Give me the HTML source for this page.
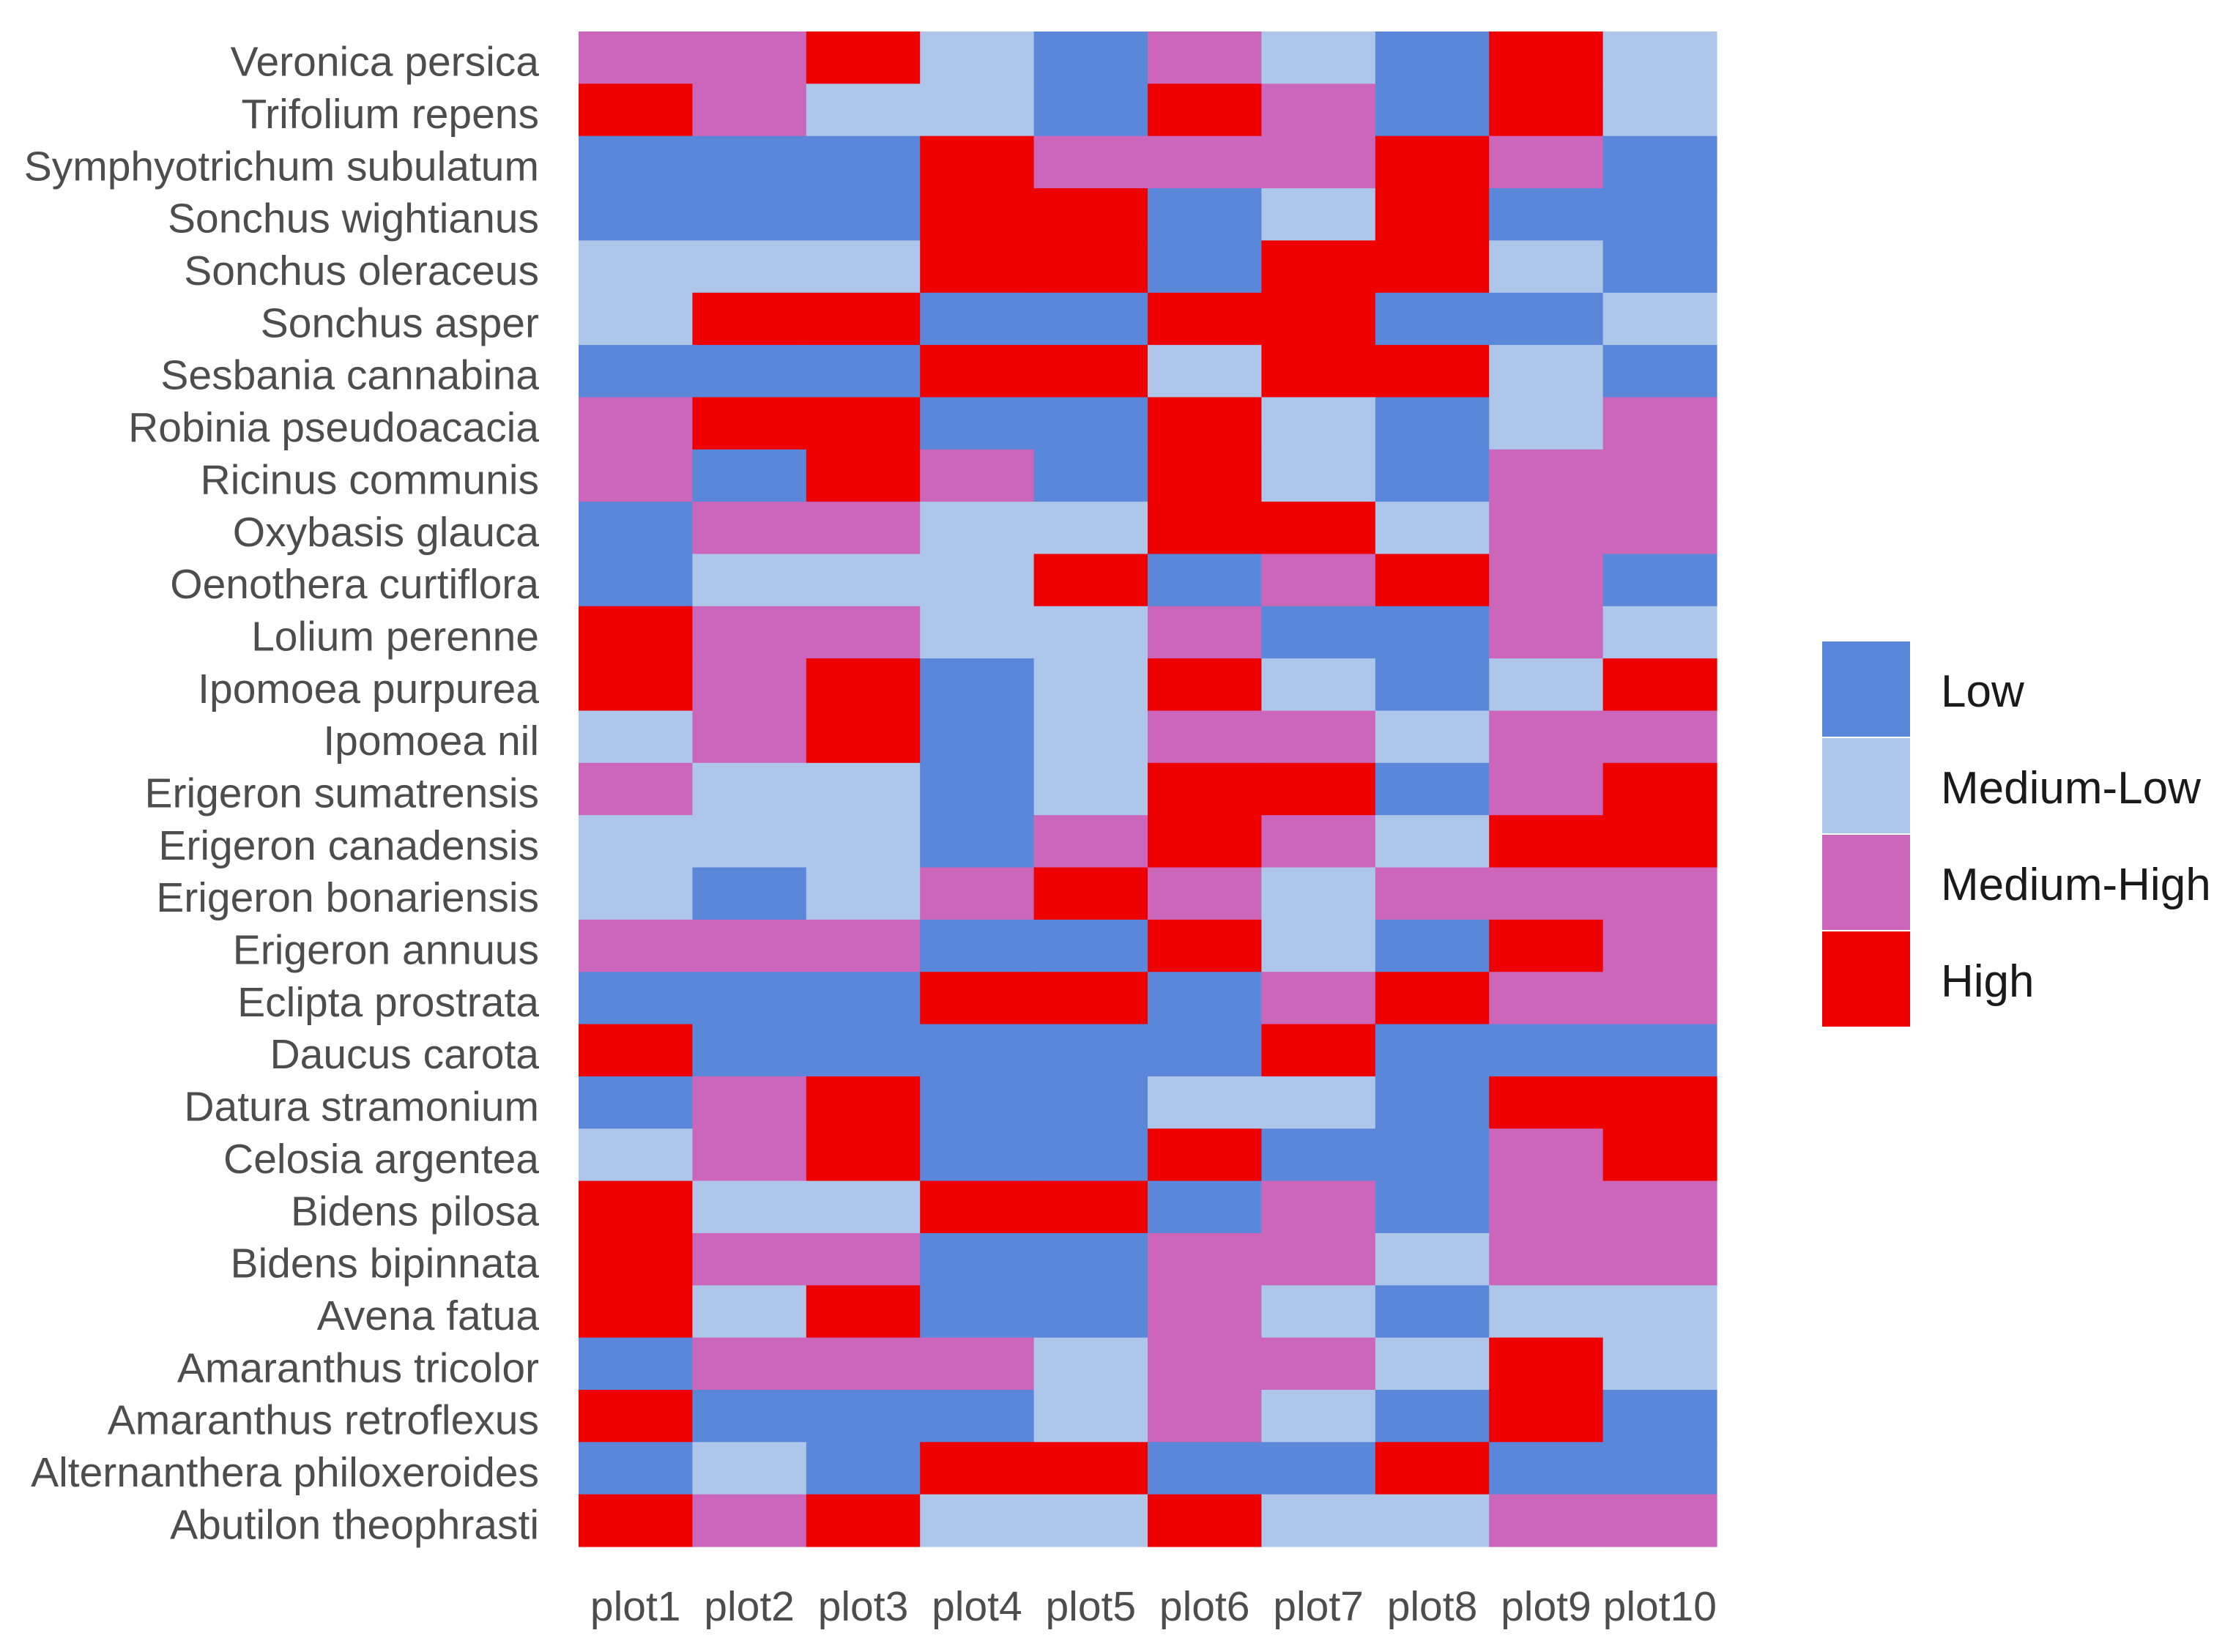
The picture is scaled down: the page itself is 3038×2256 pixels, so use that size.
<!DOCTYPE html>
<html><head><meta charset="utf-8"><style>
html,body{margin:0;padding:0;background:#fff;}
svg{display:block;font-family:"Liberation Sans",sans-serif;}
</style></head><body>
<svg id="chart" width="3038" height="2256" viewBox="0 0 3038 2256" xmlns="http://www.w3.org/2000/svg">
<g id="cells"></g>
<g id="ylabels"></g>
<g id="xlabels"></g>
<g id="legend"></g>
</svg>
<script>
const species = ["Veronica persica","Trifolium repens","Symphyotrichum subulatum","Sonchus wightianus","Sonchus oleraceus","Sonchus asper","Sesbania cannabina","Robinia pseudoacacia","Ricinus communis","Oxybasis glauca","Oenothera curtiflora","Lolium perenne","Ipomoea purpurea","Ipomoea nil","Erigeron sumatrensis","Erigeron canadensis","Erigeron bonariensis","Erigeron annuus","Eclipta prostrata","Daucus carota","Datura stramonium","Celosia argentea","Bidens pilosa","Bidens bipinnata","Avena fatua","Amaranthus tricolor","Amaranthus retroflexus","Alternanthera philoxeroides","Abutilon theophrasti"];
const plots = ["plot1","plot2","plot3","plot4","plot5","plot6","plot7","plot8","plot9","plot10"];
const levels = ["Low","Medium-Low","Medium-High","High"];
// 1=Low 2=Medium-Low 3=Medium-High 4=High
const values = [
[3,3,4,2,1,3,2,1,4,2],
[4,3,2,2,1,4,3,1,4,2],
[1,1,1,4,3,3,3,4,3,1],
[1,1,1,4,4,1,2,4,1,1],
[2,2,2,4,4,1,4,4,2,1],
[2,4,4,1,1,4,4,1,1,2],
[1,1,1,4,4,2,4,4,2,1],
[3,4,4,1,1,4,2,1,2,3],
[3,1,4,3,1,4,2,1,3,3],
[1,3,3,2,2,4,4,2,3,3],
[1,2,2,2,4,1,3,4,3,1],
[4,3,3,2,2,3,1,1,3,2],
[4,3,4,1,2,4,2,1,2,4],
[2,3,4,1,2,3,3,2,3,3],
[3,2,2,1,2,4,4,1,3,4],
[2,2,2,1,3,4,3,2,4,4],
[2,1,2,3,4,3,2,3,3,3],
[3,3,3,1,1,4,2,1,4,3],
[1,1,1,4,4,1,3,4,3,3],
[4,1,1,1,1,1,4,1,1,1],
[1,3,4,1,1,2,2,1,4,4],
[2,3,4,1,1,4,1,1,3,4],
[4,2,2,4,4,1,3,1,3,3],
[4,3,3,1,1,3,3,2,3,3],
[4,2,4,1,1,3,2,1,2,2],
[1,3,3,3,2,3,3,2,4,2],
[4,1,1,1,2,3,2,1,4,1],
[1,2,1,4,4,1,1,4,1,1],
[4,3,4,2,2,4,2,2,3,3]
];
const colors = ["#5b87db","#aec6ea","#cc66bb","#ee0000"];
const NS="http://www.w3.org/2000/svg";
const X0=790,X1=2344,Y0=43,Y1=2112;
const cw=(X1-X0)/plots.length, ch=(Y1-Y0)/species.length;
const xPos=i=>X0+i*cw, yPos=j=>Y0+j*ch;
function mk(tag,attrs,parent){const e=document.createElementNS(NS,tag);for(const k in attrs)e.setAttribute(k,attrs[k]);parent.appendChild(e);return e;}
const cells=document.getElementById('cells');
values.forEach((row,j)=>row.forEach((v,i)=>{
  const r=mk('rect',{x:xPos(i),y:yPos(j),width:cw+0.6,height:ch+0.6,fill:colors[v-1]},cells);
  
  
}));
const yl=document.getElementById('ylabels');
species.forEach((s,j)=>{
  const t=mk('text',{x:736,y:yPos(j)+ch/2+25,'text-anchor':'end','font-size':57,fill:'#4d4d4d'},yl);
  t.textContent=s;
  
  
});
const xl=document.getElementById('xlabels');
plots.forEach((p,i)=>{
  const t=mk('text',{x:xPos(i)+cw/2,y:2213,'text-anchor':'middle','font-size':57,fill:'#4d4d4d'},xl);
  t.textContent=p;
  
  
});
const lg=document.getElementById('legend');
levels.forEach((l,k)=>{
  const y=876+k*132;
  const r=mk('rect',{x:2488,y:y,width:120,height:130,fill:colors[k]},lg);
  
  
  const t=mk('text',{x:2650,y:y+65+24,'font-size':62,fill:'#1a1a1a'},lg);
  t.textContent=l;
  
  
});
</script>
</body></html>
